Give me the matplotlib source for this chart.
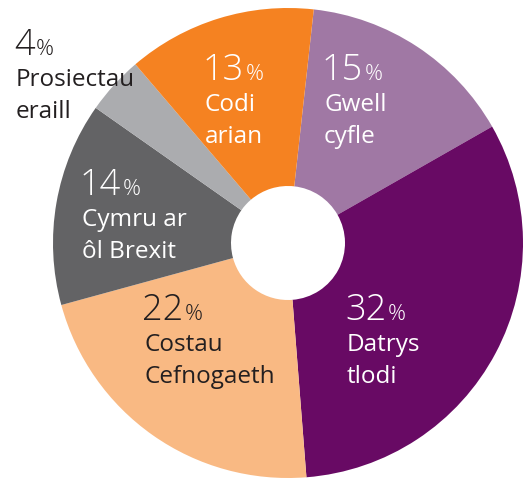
import matplotlib
matplotlib.use("Agg")
import matplotlib.pyplot as plt

# slices, clockwise from the top
labels = ["Gwell\ncyfle", "Datrys\ntlodi", "Costau\nCefnogaeth",
          "Cymru ar\nôl Brexit", "Prosiectau\neraill", "Codi\narian"]
shares = [15, 32, 22, 14, 4, 13]
colors = ["#a078a4", "#680a64", "#f9b983", "#636365", "#abacaf", "#f58221"]
text_colors = ["white", "white", "#231f20", "white", "#231f20", "white"]

# where each label sits (left x, baseline of the number, in pixels from top)
label_x = [324, 347, 144, 82, 16, 205]
label_y = [80, 320, 320, 195, 55, 80]

W, H = 524, 480
fig = plt.figure(figsize=(W / 100, H / 100), dpi=100)
ax = fig.add_axes([0, 0, 1, 1])

cx, cy, R, r_hole = 288, H - 243, 235, 57
ax.pie(shares, colors=colors, startangle=83.7, counterclock=False,
       center=(cx, cy), radius=R,
       wedgeprops=dict(width=R - r_hole, linewidth=0))

ax.set_xlim(0, W)
ax.set_ylim(0, H)
ax.set_aspect("equal")
ax.axis("off")

fam = ["Open Sans", "DejaVu Sans"]
for lab, val, x, y, c in zip(labels, shares, label_x, label_y, text_colors):
    num = ax.text(x - 2, H - y, str(val), fontsize=26, color=c,
                  va="baseline", ha="left", family=fam, weight=300)
    ax.annotate("%", xy=(1, H - y), xycoords=(num, "data"),
                xytext=(1, 0), textcoords="offset points",
                fontsize=16, color=c, va="baseline", ha="left",
                family=fam, weight=300)
    for i, line in enumerate(lab.split("\n")):
        ax.text(x, H - y - 32 * (i + 1) + 1, line, fontsize=17.5, color=c,
                va="baseline", ha="left", family=fam, weight="normal")

fig.savefig("out.png", dpi=100)
